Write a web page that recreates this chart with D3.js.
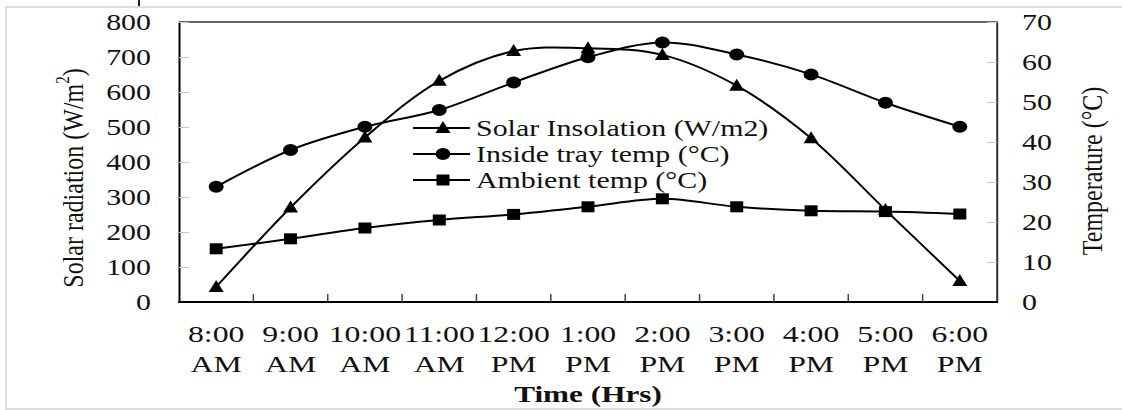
<!DOCTYPE html>
<html>
<head>
<meta charset="utf-8">
<script src="https://cdn.jsdelivr.net/npm/d3@7"></script>
<style>
  body { margin: 0; background: #fff; }
  text { font-family: "Liberation Serif", "Times New Roman", serif; fill: #111; }
</style>
</head>
<body>
<div id="chart"></div>
<script>
// time of day (two-line labels)
var times = ["8:00 AM", "9:00 AM", "10:00 AM", "11:00 AM", "12:00 PM", "1:00 PM",
             "2:00 PM", "3:00 PM", "4:00 PM", "5:00 PM", "6:00 PM"];
// W/m2, left axis
var solar = [43, 270, 470, 632, 717, 725, 706, 618, 468, 263, 60];
// deg C, right axis
var inside = [28.8, 38, 43.8, 48, 54.9, 61.2, 64.9, 61.9, 56.9, 49.8, 43.8];
var ambient = [13.3, 15.8, 18.5, 20.5, 21.9, 23.8, 25.8, 23.8, 22.8, 22.6, 22.0];

var leftTicks = [0, 100, 200, 300, 400, 500, 600, 700, 800];
var rightTicks = [0, 10, 20, 30, 40, 50, 60, 70];
var legendNames = ["Solar Insolation (W/m2)", "Inside tray temp (°C)", "Ambient temp (°C)"];

var width = 1122, height = 410;
var pLeft = 179, pRight = 997, pTop = 22, pBottom = 302;
var sx = 1.3; // the picture is stretched sideways

var svg = d3.select("#chart").append("svg")
    .attr("width", width)
    .attr("height", height);

// outer frame
svg.append("rect")
    .attr("x", 6).attr("y", 7)
    .attr("width", 1130).attr("height", 402)
    .attr("fill", "none").attr("stroke", "#dcdcdc").attr("stroke-width", 2);
svg.append("line")
    .attr("x1", 139).attr("x2", 139).attr("y1", 0).attr("y2", 6)
    .attr("stroke", "#222").attr("stroke-width", 2);

var x = d3.scaleBand().domain(times).range([pLeft, pRight]);
var yL = d3.scaleLinear().domain([0, 800]).range([pBottom, pTop]);
var yR = d3.scaleLinear().domain([0, 70]).range([pBottom, pTop]);

function widen(sel, k) {
  k = k || sx;
  sel.each(function() {
    var w = this.getComputedTextLength();
    d3.select(this).attr("textLength", w * k).attr("lengthAdjust", "spacingAndGlyphs");
  });
}

// plot frame (top and right)
svg.append("path")
    .attr("d", "M" + pLeft + "," + pTop + "H" + pRight + "V" + pBottom)
    .attr("fill", "none").attr("stroke", "#333").attr("stroke-width", 1.5);

// left axis
var gL = svg.append("g")
    .attr("transform", "translate(" + pLeft + ",0)")
    .call(d3.axisLeft(yL).tickValues(leftTicks).tickSizeInner(-10).tickSizeOuter(0).tickPadding(28));
gL.select(".domain").attr("stroke", "#000").attr("stroke-width", 2);
gL.selectAll(".tick line").attr("stroke", "#c8c8c8");
gL.selectAll(".tick text").attr("font-size", 23).attr("fill", "#111")
    .attr("font-family", "Liberation Serif").call(widen);

// right axis
var gR = svg.append("g")
    .attr("transform", "translate(" + pRight + ",0)")
    .call(d3.axisRight(yR).tickValues(rightTicks).tickSizeInner(-10).tickSizeOuter(0).tickPadding(25));
gR.select(".domain").attr("stroke", "#333").attr("stroke-width", 1.5);
gR.selectAll(".tick line").attr("stroke", "#c8c8c8");
gR.selectAll(".tick text").attr("font-size", 23).attr("fill", "#111")
    .attr("font-family", "Liberation Serif").call(widen);

// bottom axis with ticks between categories
svg.append("line")
    .attr("x1", pLeft - 1).attr("x2", pRight + 1).attr("y1", pBottom).attr("y2", pBottom)
    .attr("stroke", "#000").attr("stroke-width", 2);
svg.append("g").selectAll("line")
    .data(times.slice(1))
    .enter().append("line")
    .attr("x1", function(d) { return x(d); })
    .attr("x2", function(d) { return x(d); })
    .attr("y1", pBottom).attr("y2", pBottom - 8)
    .attr("stroke", "#444").attr("stroke-width", 1.5);

var xl = svg.append("g");
[0, 1].forEach(function(row) {
  xl.selectAll(null)
      .data(times)
      .enter().append("text")
      .attr("x", function(d) { return x(d) + x.bandwidth() / 2; })
      .attr("y", row === 0 ? 342 : 372)
      .attr("text-anchor", "middle")
      .attr("font-size", 23)
      .text(function(d) { return d.split(" ")[row]; })
      .call(widen, 1.38);
});

// axis titles
svg.append("text")
    .attr("x", (pLeft + pRight) / 2).attr("y", 402)
    .attr("text-anchor", "middle")
    .attr("font-size", 24).attr("font-weight", "bold")
    .text("Time (Hrs)")
    .call(widen);

var tl = svg.append("text")
    .attr("transform", "translate(73,178) rotate(-90) scale(1,1.25)")
    .attr("text-anchor", "middle")
    .attr("dominant-baseline", "central")
    .attr("font-size", 24);
tl.append("tspan").text("Solar radiation (W/m");
tl.append("tspan").attr("font-size", 15).attr("baseline-shift", "super").text("2");
tl.append("tspan").text(")");

svg.append("text")
    .attr("transform", "translate(1092,171) rotate(-90) scale(1,1.25)")
    .attr("text-anchor", "middle")
    .attr("dominant-baseline", "central")
    .attr("font-size", 24)
    .text("Temperature (°C)");

// series
var cx = function(i) { return x(times[i]) + x.bandwidth() / 2; };
var curve = d3.curveCatmullRom.alpha(0.5);

var series = [
  { values: solar, scale: yL, shape: "tri" },
  { values: inside, scale: yR, shape: "circle" },
  { values: ambient, scale: yR, shape: "square" }
];

function marker(shape) {
  if (shape === "tri") return "M0,-7L7.5,5L-7.5,5Z";
  if (shape === "square") return "M-6.5,-5.5H6.5V5.5H-6.5Z";
  return "M-7.5,0A7.5,6 0 1,0 7.5,0A7.5,6 0 1,0 -7.5,0Z";
}

series.forEach(function(s) {
  var line = d3.line()
      .x(function(d, i) { return cx(i); })
      .y(function(d) { return s.scale(d); })
      .curve(curve);
  svg.append("path")
      .datum(s.values)
      .attr("d", line)
      .attr("fill", "none").attr("stroke", "#000").attr("stroke-width", 2);
  svg.append("g").selectAll("path")
      .data(s.values)
      .enter().append("path")
      .attr("transform", function(d, i) { return "translate(" + cx(i) + "," + s.scale(d) + ")"; })
      .attr("d", marker(s.shape))
      .attr("fill", "#000");
});

// legend
var leg = svg.append("g").selectAll("g")
    .data(legendNames)
    .enter().append("g")
    .attr("transform", function(d, i) { return "translate(413," + (128 + i * 26) + ")"; });
leg.append("line")
    .attr("x1", 0).attr("x2", 57)
    .attr("stroke", "#000").attr("stroke-width", 2);
leg.append("path")
    .attr("transform", "translate(30,0)")
    .attr("d", function(d, i) { return marker(series[i].shape); })
    .attr("fill", "#000");
leg.append("text")
    .attr("x", 63)
    .attr("dy", "0.35em")
    .attr("font-size", 23)
    .text(function(d) { return d; })
    .call(widen);
</script>
</body>
</html>
